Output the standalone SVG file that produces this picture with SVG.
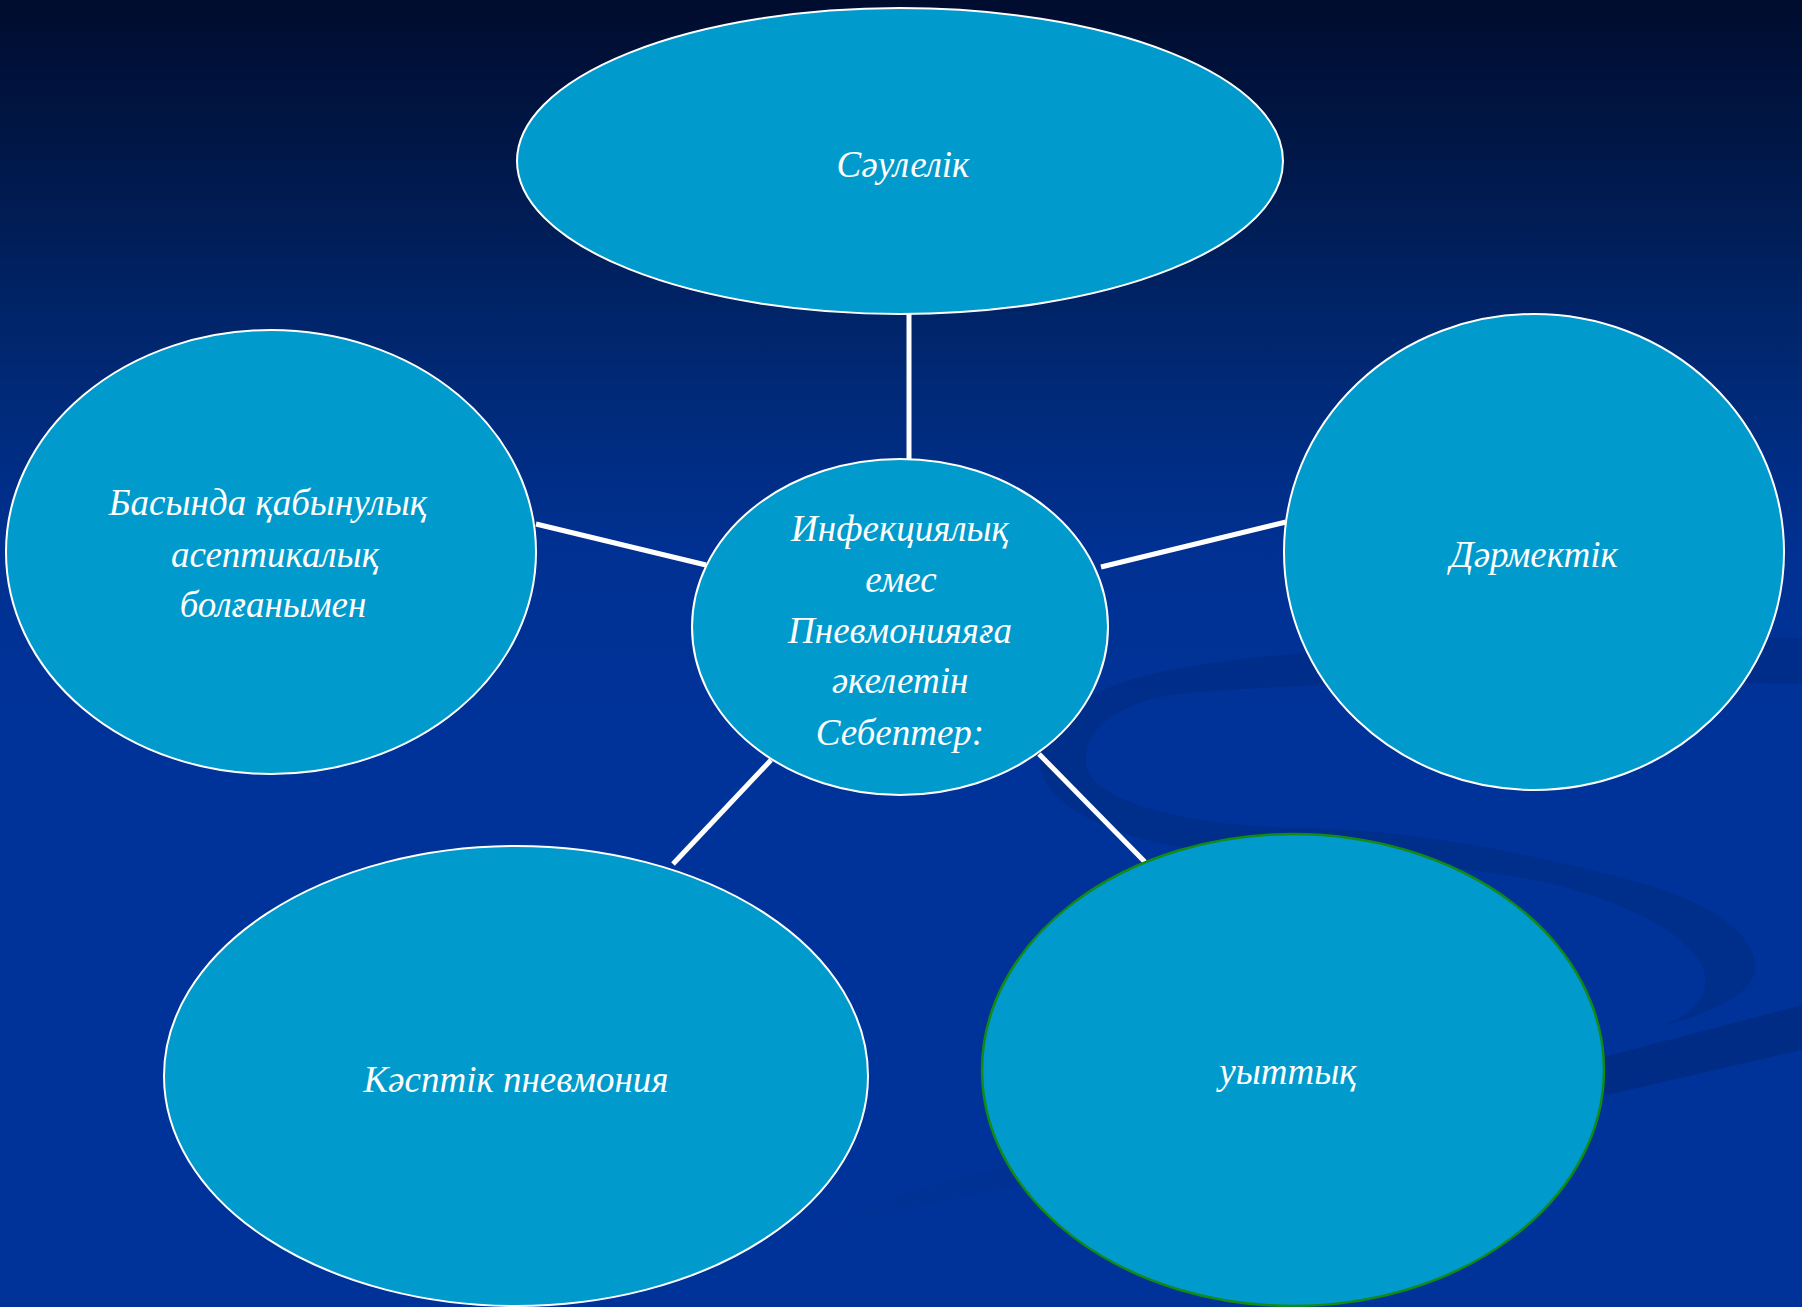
<svg xmlns="http://www.w3.org/2000/svg" width="1802" height="1307" viewBox="0 0 1802 1307">
<defs>
<linearGradient id="bg" x1="0" y1="0" x2="0" y2="1307" gradientUnits="userSpaceOnUse">
<stop offset="0" stop-color="#000c2e"/>
<stop offset="0.12" stop-color="#001849"/>
<stop offset="0.3" stop-color="#002a78"/>
<stop offset="0.42" stop-color="#003192"/>
<stop offset="0.55" stop-color="#003399"/>
<stop offset="1" stop-color="#003399"/>
</linearGradient>
<linearGradient id="tail" x1="780" y1="0" x2="1600" y2="0" gradientUnits="userSpaceOnUse">
<stop offset="0" stop-color="#002a80" stop-opacity="0"/>
<stop offset="0.5" stop-color="#002a80" stop-opacity="0.4"/>
<stop offset="1" stop-color="#002a80" stop-opacity="0.75"/>
</linearGradient>
<style>
.node{fill:#009bcc;stroke:#ffffff;stroke-width:2}
.node.green{stroke:#138a13;stroke-width:2.5}
.lbl{font-family:"Liberation Serif","DejaVu Serif",serif;font-style:italic;font-size:37px;fill:#ffffff;text-anchor:middle}
.conn line{stroke:#ffffff;stroke-width:5}
.swoosh{fill:#002a80;fill-opacity:0.55}
</style>
</defs>
<rect x="0" y="0" width="1802" height="1307" fill="url(#bg)"/>
<g id="background-swoosh">
<path class="swoosh" d="M1802,638 C1560,636 1290,645 1160,672 C1080,690 1035,725 1040,765 C1045,805 1110,838 1200,850 C1330,860 1470,862 1560,886 C1650,910 1700,945 1705,975 C1708,1000 1690,1015 1660,1027 C1720,1010 1760,990 1755,962 C1750,925 1690,895 1630,880 C1530,854 1420,830 1300,828 C1180,826 1095,800 1087,768 C1080,735 1110,705 1170,695 C1300,680 1600,680 1802,684 Z"/>
<path fill="url(#tail)" d="M780,1240 C950,1160 1300,1100 1603,1057 L1802,1005 L1802,1050 L1603,1096 C1300,1135 1000,1180 780,1240 Z"/>
</g>
<g id="connectors" class="conn">
<line x1="909" y1="314" x2="909" y2="460"/>
<line x1="536" y1="524" x2="706" y2="565"/>
<line x1="1101" y1="567" x2="1286" y2="522"/>
<line x1="771" y1="760" x2="673" y2="864"/>
<line x1="1039" y1="754" x2="1145" y2="862"/>
</g>
<g id="node-top">
<ellipse class="node" cx="900" cy="161" rx="383" ry="153"/>
<text class="lbl" x="903" y="177">Сәулелік</text>
</g>
<g id="node-left">
<ellipse class="node" cx="271" cy="552" rx="265" ry="222"/>
<text class="lbl" x="268" y="515">Басында қабынулық</text>
<text class="lbl" x="275" y="567">асептикалық</text>
<text class="lbl" x="273" y="617">болғанымен</text>
</g>
<g id="node-right">
<ellipse class="node" cx="1534" cy="552" rx="250" ry="238"/>
<text class="lbl" x="1534" y="567">Дәрмектік</text>
</g>
<g id="node-center">
<ellipse class="node" cx="900" cy="627" rx="208" ry="168"/>
<text class="lbl" x="900" y="541">Инфекциялық</text>
<text class="lbl" x="901" y="592">емес</text>
<text class="lbl" x="900" y="643">Пневмонияяға</text>
<text class="lbl" x="900" y="693">әкелетін</text>
<text class="lbl" x="900" y="745">Себептер:</text>
</g>
<g id="node-bottom-left">
<ellipse class="node" cx="516" cy="1076" rx="352" ry="230"/>
<text class="lbl" x="516" y="1092">Кәсптік пневмония</text>
</g>
<g id="node-bottom-right">
<ellipse class="node green" cx="1293" cy="1070" rx="311" ry="236"/>
<text class="lbl" x="1288" y="1084">уыттық</text>
</g>
</svg>
